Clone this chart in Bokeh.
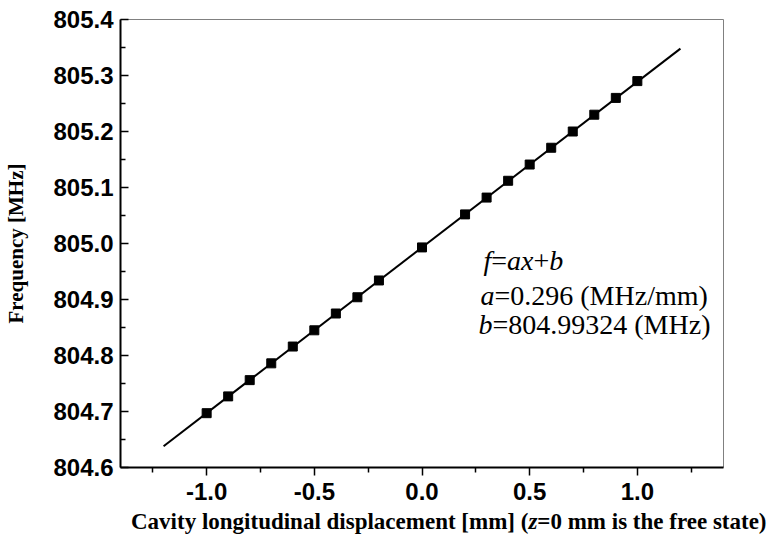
from bokeh.plotting import figure
from bokeh.layouts import column
from bokeh.models import Label, FixedTicker, PrintfTickFormatter, Range1d, Div
from bokeh.embed import file_html
from bokeh.resources import INLINE

# ---- data ----
displacement = [-1.0, -0.9, -0.8, -0.7, -0.6, -0.5, -0.4, -0.3, -0.2, 0.0,
                0.2, 0.3, 0.4, 0.5, 0.6, 0.7, 0.8, 0.9, 1.0]
frequency = [804.697, 804.727, 804.756, 804.786, 804.816, 804.845, 804.875,
             804.904, 804.934, 804.993, 805.052, 805.082, 805.112, 805.141,
             805.171, 805.200, 805.230, 805.260, 805.290]
fit_x = [-1.2, 1.2]
fit_y = [804.638, 805.348]
x_ticks = [-1.0, -0.5, 0.0, 0.5, 1.0]
x_minor = [-1.25, -0.75, -0.25, 0.25, 0.75, 1.25]
y_ticks = [804.6, 804.7, 804.8, 804.9, 805.0, 805.1, 805.2, 805.3, 805.4]
y_minor = [804.65, 804.75, 804.85, 804.95, 805.05, 805.15, 805.25, 805.35]

SERIF = "Liberation Serif"
SANS = "Liberation Sans"

p = figure(width=770, height=510, x_range=Range1d(-1.4, 1.4),
           y_range=Range1d(804.6, 805.4), output_backend="svg",
           toolbar_location=None, min_border_left=120, min_border_right=47,
           min_border_top=19, min_border_bottom=43)
p.background_fill_color = "white"
p.border_fill_color = "white"
p.outline_line_color = "#808080"
p.outline_line_width = 1
p.xgrid.visible = False
p.ygrid.visible = False

p.line(fit_x, fit_y, line_color="black", line_width=2)
p.scatter(displacement, frequency, marker="square", size=9,
          fill_color="black", line_color="black")

xa = p.xaxis[0]
xa.ticker = FixedTicker(ticks=x_ticks, minor_ticks=x_minor)
xa.formatter = PrintfTickFormatter(format="%.1f")
xa.axis_line_width = 2
xa.axis_line_color = "black"
xa.major_tick_in = 0
xa.major_tick_out = 8
xa.minor_tick_in = 0
xa.minor_tick_out = 5
xa.major_tick_line_width = 1.5
xa.minor_tick_line_width = 1.5
xa.major_label_text_font = SANS
xa.major_label_text_font_style = "bold"
xa.major_label_text_font_size = "24px"
xa.major_label_text_color = "black"
xa.major_label_standoff = 7

ya = p.yaxis[0]
ya.ticker = FixedTicker(ticks=y_ticks, minor_ticks=y_minor)
ya.formatter = PrintfTickFormatter(format="%.1f")
ya.axis_line_width = 2
ya.axis_line_color = "black"
ya.major_tick_in = 8
ya.major_tick_out = 0
ya.minor_tick_in = 5
ya.minor_tick_out = 0
ya.major_tick_line_width = 1.5
ya.minor_tick_line_width = 1.5
ya.major_label_text_font = SANS
ya.major_label_text_font_style = "bold"
ya.major_label_text_font_size = "24px"
ya.major_label_text_color = "black"
ya.major_label_standoff = 7
ya.axis_label = "Frequency [MHz]"
ya.axis_label_text_font = SERIF
ya.axis_label_text_font_style = "bold"
ya.axis_label_text_font_size = "21px"
ya.axis_label_text_color = "black"
ya.axis_label_standoff = 22


def add_segments(fig, x, y, x_offset, segments, size, bold=False):
    """Place text runs one after another; widths in em from Times metrics."""
    off = x_offset
    for text, italic, width_em in segments:
        style = ("bold " if bold else "") + ("italic" if italic else "")
        style = style.strip() or "normal"
        fig.add_layout(Label(x=x, y=y, x_offset=off, text=text,
                             text_font=SERIF, text_font_style=style,
                             text_font_size=f"{size}px", text_color="black",
                             text_align="left", text_baseline="alphabetic"))
        off += width_em * size


# fit annotation
AN = 28
add_segments(p, 0.0, 804.969, 483 - 421.5,
             [("f", True, 0.278), ("=", False, 0.564), ("ax", True, 0.944),
              ("+", False, 0.564), ("b", True, 0.5)], AN)
add_segments(p, 0.0, 804.908, 480 - 421.5,
             [("a", True, 0.5), ("=0.296 (MHz/mm)", False, 7.6)], AN)
add_segments(p, 0.0, 804.855, 478 - 421.5,
             [("b", True, 0.5), ("=804.99324 (MHz)", False, 7.6)], AN)

# x axis title (bold, with italic z) as real HTML text below the plot
x_title_html = (
    '<div style="position:relative; left:131px; top:0px; white-space:nowrap; '
    "font-family:'Liberation Serif'; font-weight:bold; font-size:23px; "
    'line-height:23px; color:black;">'
    'Cavity longitudinal displacement [mm] (<i>z</i>=0 mm is the free state)'
    '</div>'
)
x_title = Div(text=x_title_html, width=770, height=42, margin=(0, 0, 0, 0))

layout = column(p, x_title, spacing=0)
open("out.html", "w").write(file_html(layout, INLINE))
